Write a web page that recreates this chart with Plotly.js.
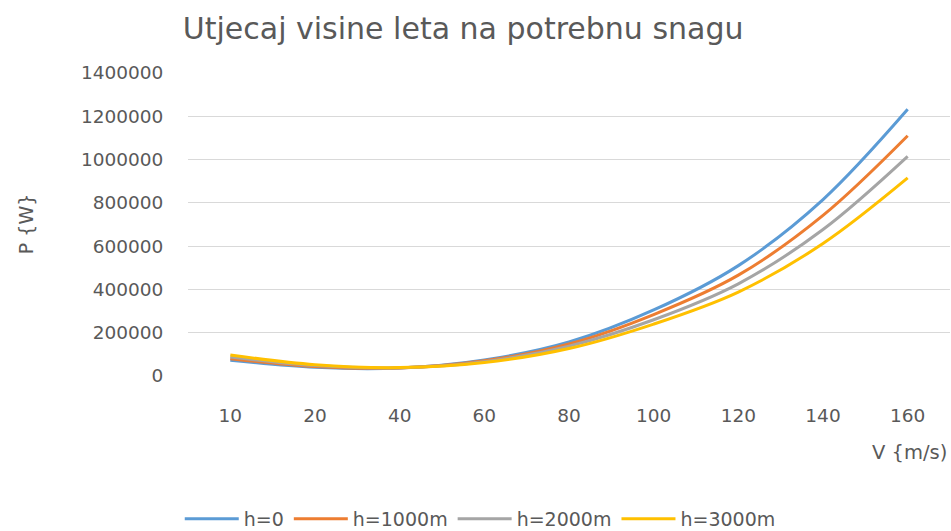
<!DOCTYPE html>
<html>
<head>
<meta charset="utf-8">
<script src="https://cdn.plot.ly/plotly-3.0.1.min.js"></script>
<style>html,body{margin:0;padding:0;background:#fff}#chart{width:951px;height:531px}</style>
</head>
<body>
<div id="chart"></div>
<script>
var speeds = ['10', '20', '40', '60', '80', '100', '120', '140', '160'];
var seriesNames = ['h=0', 'h=1000m', 'h=2000m', 'h=3000m'];
var h0 = [73000, 40000, 37000, 74000, 157000, 305000, 510000, 815000, 1232000];
var h1000 = [80000, 44000, 37000, 70000, 148000, 284000, 466000, 742000, 1110000];
var h2000 = [88000, 48000, 38000, 66000, 138000, 260000, 426000, 677000, 1015000];
var h3000 = [97000, 52000, 39000, 62000, 127000, 240000, 388000, 612000, 915000];
var yTicks = [0, 200000, 400000, 600000, 800000, 1000000, 1200000, 1400000];

var colors = ['#5B9BD5', '#ED7D31', '#A5A5A5', '#FFC000'];
var allSeries = [h0, h1000, h2000, h3000];
var FONT = 'DejaVu Sans, Arial, sans-serif';
var TXT = '#595959';

var traces = allSeries.map(function (vals, i) {
  return {
    x: speeds, y: vals, name: seriesNames[i], type: 'scatter', mode: 'lines',
    line: {color: colors[i], width: 3, shape: 'spline', smoothing: 1}
  };
});

var layout = {
  width: 951, height: 531,
  margin: {l: 188, r: 1, t: 73, b: 155},
  paper_bgcolor: '#fff', plot_bgcolor: '#fff',
  font: {family: FONT, color: TXT, size: 18},
  title: {text: 'Utjecaj visine leta na potrebnu snagu', font: {family: FONT, size: 30, color: TXT},
          xref: 'container', x: 0.487, xanchor: 'center', yref: 'container', y: 0.947, yanchor: 'middle'},
  xaxis: {type: 'category', range: [-0.5, 8.5], showgrid: false, zeroline: false,
          showline: false, ticks: 'outside', ticklen: 23, tickcolor: 'rgba(0,0,0,0)',
          tickfont: {family: FONT, size: 18.5, color: TXT}, fixedrange: true},
  yaxis: {range: [0, 1400000], tickvals: yTicks, ticktext: yTicks.map(String),
          showgrid: true, gridcolor: '#D9D9D9', gridwidth: 1, zeroline: false,
          ticks: 'outside', ticklen: 20, tickcolor: 'rgba(0,0,0,0)',
          tickfont: {family: FONT, size: 18.5, color: TXT}, fixedrange: true},
  showlegend: true,
  legend: {orientation: 'h', xref: 'container', yref: 'container', x: 0.505, xanchor: 'center',
           y: 0.023, yanchor: 'middle', font: {family: FONT, size: 19, color: TXT},
           itemwidth: 54, tracegroupgap: 0, bgcolor: 'rgba(0,0,0,0)'},
  annotations: [
    {text: 'P {W}', xref: 'paper', yref: 'paper', x: -0.213, y: 0.5, xanchor: 'center', yanchor: 'middle',
     textangle: -90, showarrow: false, font: {family: FONT, size: 19, color: TXT}},
    {text: 'V {m/s)', xref: 'paper', yref: 'paper', x: 0.999, y: -0.251, xanchor: 'right', yanchor: 'middle',
     showarrow: false, font: {family: FONT, size: 19.5, color: TXT}}
  ]
};

Plotly.newPlot('chart', traces, layout, {displayModeBar: false, staticPlot: true});
</script>
</body>
</html>
